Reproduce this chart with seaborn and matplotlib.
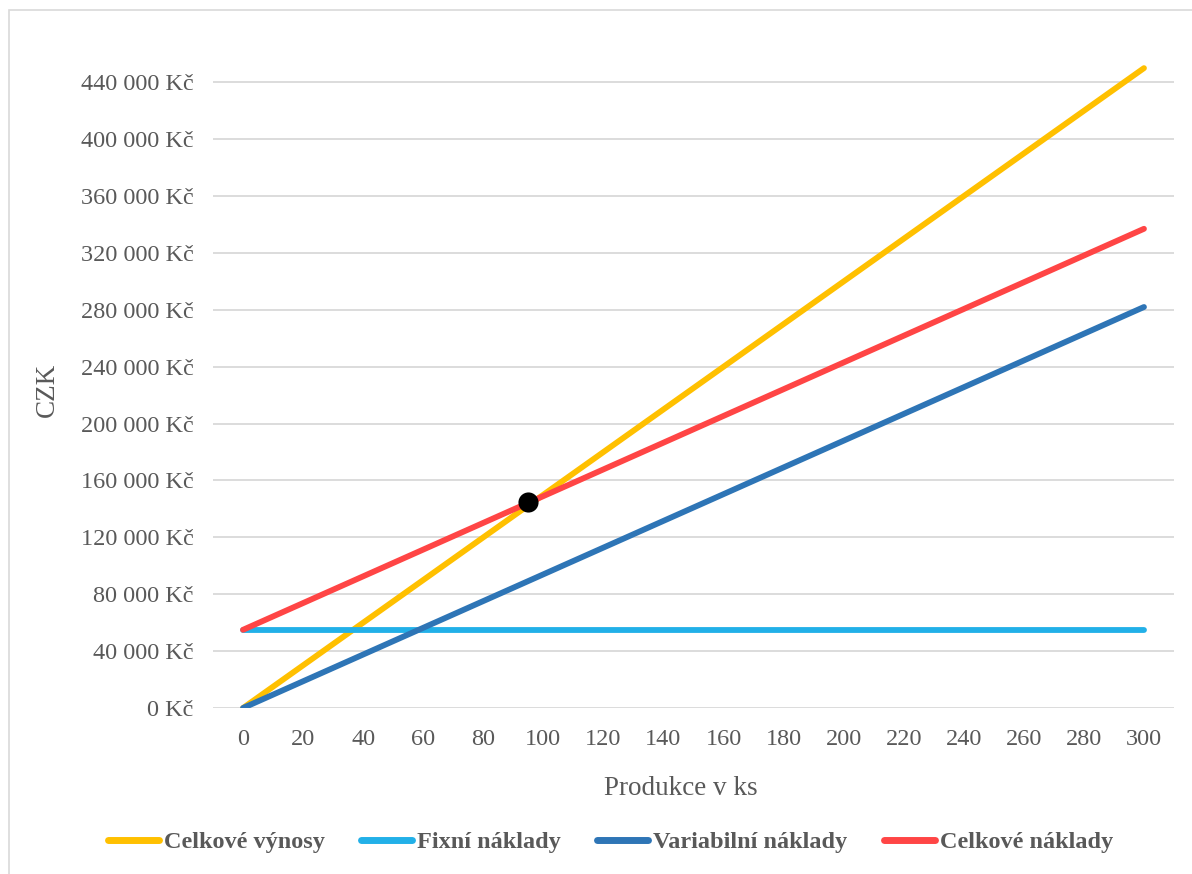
import matplotlib
matplotlib.use("Agg")
import matplotlib.pyplot as plt
import matplotlib.patches as mpatches
from matplotlib.ticker import FuncFormatter, MultipleLocator
import seaborn as sns
import pandas as pd

# Production quantities (pieces) and the value of each series at them
production = [0, 300]
revenue = [0, 450000]
fixed_costs = [55000, 55000]
variable_costs = [0, 282000]
total_costs = [55000, 337000]

# Break-even point
breakeven_x = [95]
breakeven_y = [145000]

series_names = ["Celkové výnosy", "Fixní náklady", "Variabilní náklady", "Celkové náklady"]
series_colors = ["#FFC000", "#22B0E8", "#2E75B6", "#FF4545"]

df = pd.concat(
    [
        pd.DataFrame({"ks": production, "CZK": vals, "serie": name})
        for name, vals in zip(series_names, [revenue, fixed_costs, variable_costs, total_costs])
    ],
    ignore_index=True,
)

sns.set_theme(style="white")
plt.rcParams["font.family"] = ["Liberation Serif", "DejaVu Serif"]

fig = plt.figure(figsize=(11.92, 8.74), dpi=100)
ax = fig.add_axes([213 / 1192, 1 - 708 / 874, (1174 - 213) / 1192, (708 - 53.9) / 874])

sns.lineplot(
    data=df, x="ks", y="CZK", hue="serie", hue_order=series_names,
    palette=series_colors, linewidth=4.2, ax=ax, legend=False,
)
for line in ax.lines:
    line.set_solid_capstyle("round")

sns.scatterplot(x=breakeven_x, y=breakeven_y, color="black", s=210, ax=ax,
                zorder=5, edgecolor="black", linewidth=0)

ax.set_xlim(-10, 310)
ax.set_ylim(0, 460000)
ax.xaxis.set_major_locator(MultipleLocator(20))
ax.yaxis.set_major_locator(MultipleLocator(40000))
ax.yaxis.set_major_formatter(
    FuncFormatter(lambda v, p: f"{int(round(v)):,}".replace(",", " ") + " Kč")
)
ax.grid(axis="y", color="#D9D9D9", linewidth=1.3)
ax.grid(axis="x", visible=False)
ax.set_axisbelow(True)
for s in ax.spines.values():
    s.set_visible(False)
ax.tick_params(axis="both", length=0, labelsize=17.5, colors="#595959")
ax.tick_params(axis="x", pad=15)
ax.tick_params(axis="y", pad=14)

ax.set_xlabel("Produkce v ks", fontsize=19.5, color="#595959")
ax.xaxis.set_label_coords((681 - 213) / 961, -(776 - 708) / 654)
ax.set_ylabel("CZK", fontsize=19.5, color="#595959")
ax.yaxis.set_label_coords(-(213 - 60) / 961, (708 - 390) / 654)

handles = [
    plt.Line2D([], [], color=c, linewidth=5, solid_capstyle="round")
    for c in series_colors
]
leg = fig.legend(
    handles, series_names, loc="center", bbox_to_anchor=(0.512, 1 - 842 / 874),
    ncol=4, frameon=False, handlelength=2.1, handletextpad=0.2, columnspacing=1.5,
    prop={"family": "Liberation Serif", "weight": "bold", "size": 17.5},
)
for t in leg.get_texts():
    t.set_color("#595959")

# Chart area border
fig.patches.append(
    mpatches.Rectangle((9 / 1192, -0.2), 1.3, 1.2 - 10 / 874, transform=fig.transFigure,
                       fill=False, edgecolor="#D9D9D9", linewidth=1.2, clip_on=False)
)

fig.savefig("out.png", dpi=100)
